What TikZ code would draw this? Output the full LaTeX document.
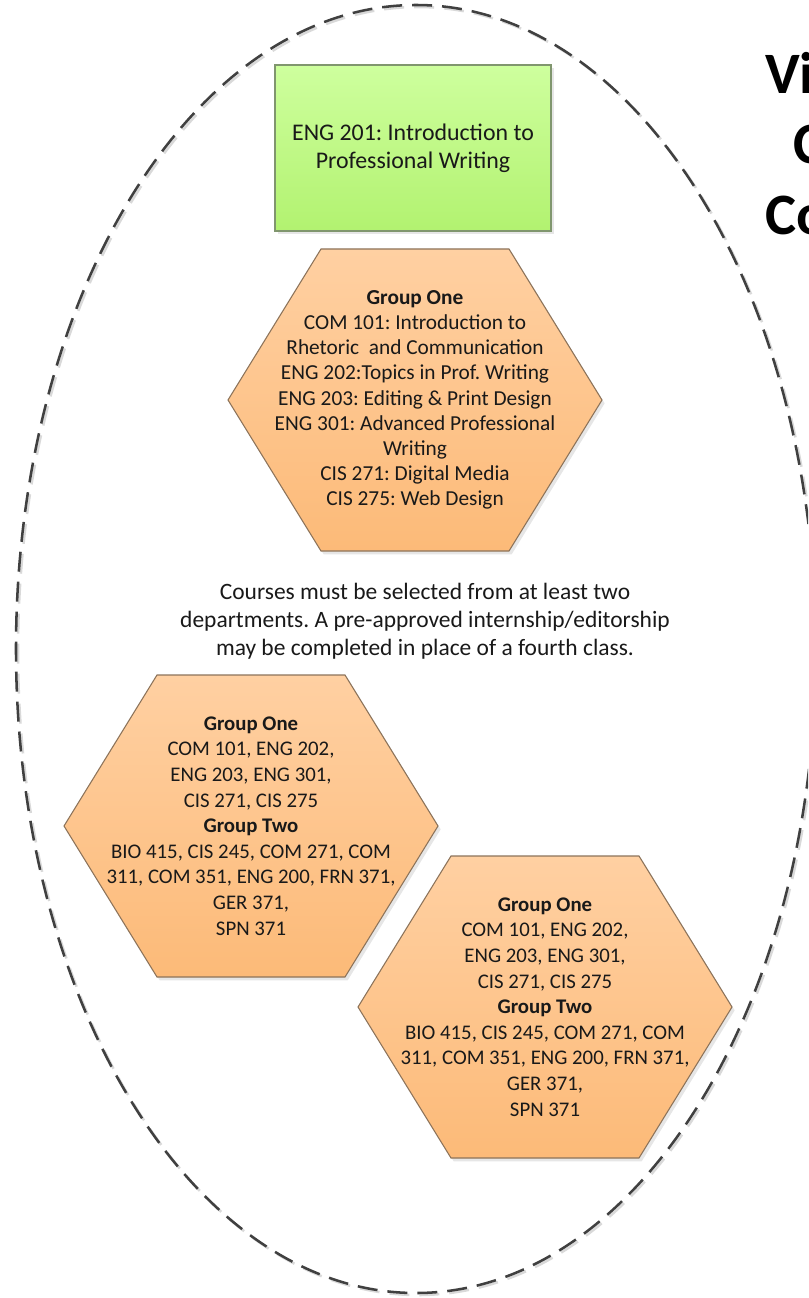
\documentclass[tikz,border=0pt]{standalone}
\usepackage{fontspec}
\setmainfont{Carlito}
\usepackage{xcolor}
\usepackage{tikz}
\usetikzlibrary{positioning,calc,backgrounds,shadows}
\frenchspacing

\definecolor{ink}{RGB}{25,25,25}
\definecolor{rim}{RGB}{64,64,64}
\definecolor{greentop}{RGB}{206,255,158}
\definecolor{greenbot}{RGB}{178,242,112}
\definecolor{greenedge}{RGB}{128,150,110}
\definecolor{hextop}{RGB}{255,208,162}
\definecolor{hexbot}{RGB}{252,186,120}
\definecolor{hexedge}{RGB}{140,115,90}

\begin{document}
\begin{tikzpicture}[x=0.75pt, y=-0.75pt,
    corebox/.style={draw=greenedge, line width=0.8pt, top color=greentop, bottom color=greenbot,
        minimum width=207pt, minimum height=124.5pt, align=center, text=ink,
        font=\fontsize{17.9}{21}\selectfont,
        drop shadow={shadow xshift=2pt, shadow yshift=-2pt, opacity=0.2}},
    hexlabel/.style={align=center, text=ink, inner sep=0pt, font=\fontsize{16}{18.9}\selectfont},
    hexshape/.style={draw=hexedge, line width=0.8pt, top color=hextop, bottom color=hexbot,
        drop shadow={shadow xshift=2pt, shadow yshift=-2.5pt, opacity=0.2}},
    note/.style={align=center, text=ink, inner sep=0pt, font=\fontsize{17.6}{21}\selectfont},
    title/.style={anchor=base west, inner sep=0pt, text=black, font=\fontsize{44}{50}\selectfont\bfseries},
    rimline/.style={line width=1.9pt, dash pattern=on 15pt off 7.5pt}
]
    \useasboundingbox (0,0) rectangle (808,1298);
    \clip (0,0) rectangle (808,1298);

    % Contorno
    \draw[rimline, black!15] (418,651) ellipse [x radius=400, y radius=644];
    \draw[rimline, rim] (416,649) ellipse [x radius=400, y radius=644];

    % Titolo
    \node[title] (titleA) at (765,94) {Vi};
    \node[title] (titleB) at (793,164) {C};
    \node[title] (titleC) at (765,234) {Co};

    % Nodi
    \node[corebox] (eng201) at (413,148) {ENG 201: Introduction to\\Professional Writing};
    \node[hexlabel] (groupOne) at (415,400) {\textbf{Group One}\\COM 101: Introduction to\\Rhetoric~ and Communication\\ENG 202:Topics in Prof. Writing\\ENG 203: Editing \& Print Design\\ENG 301: Advanced Professional\\Writing\\CIS 271: Digital Media\\CIS 275: Web Design};
    \node[note] (rule) at (425,621) {Courses must be selected from at least two\\departments. A pre-approved internship/editorship\\may be completed in place of a fourth class.};
    \node[hexlabel, font=\fontsize{15.6}{19.2}\selectfont] (pathA) at (251,826) {\textbf{Group One}\\COM 101, ENG 202,\\ENG 203, ENG 301,\\CIS 271, CIS 275\\\textbf{Group Two}\\BIO 415, CIS 245, COM 271, COM\\311, COM 351, ENG 200, FRN 371,\\GER 371,\\SPN 371};
    \node[hexlabel, font=\fontsize{15.6}{19.2}\selectfont] (pathB) at (545,1007) {\textbf{Group One}\\COM 101, ENG 202,\\ENG 203, ENG 301,\\CIS 271, CIS 275\\\textbf{Group Two}\\BIO 415, CIS 245, COM 271, COM\\311, COM 351, ENG 200, FRN 371,\\GER 371,\\SPN 371};

    % Esagoni
    \begin{scope}[on background layer]
        \foreach \g in {groupOne,pathA,pathB}
            \draw[hexshape] ($(\g)+(-94,-151)$) -- ($(\g)+(94,-151)$) -- ($(\g)+(187,0)$)
                -- ($(\g)+(94,151)$) -- ($(\g)+(-94,151)$) -- ($(\g)+(-187,0)$) -- cycle;
    \end{scope}
\end{tikzpicture}
\end{document}
